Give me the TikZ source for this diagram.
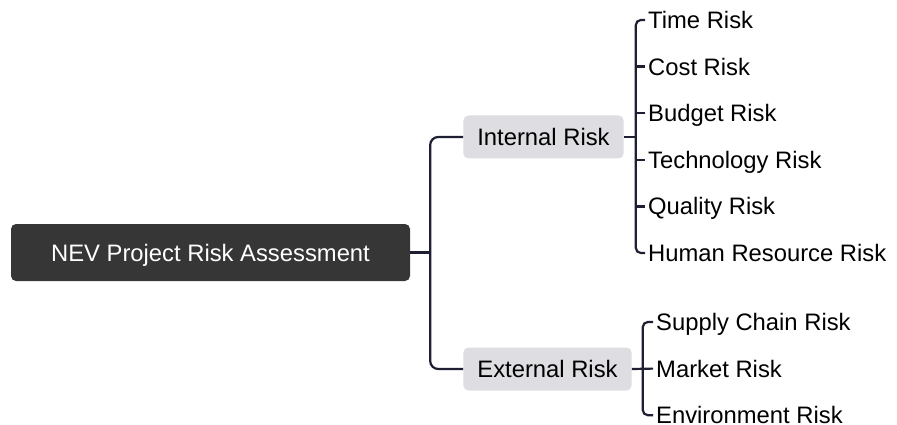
\documentclass[tikz,border=0pt]{standalone}
\usepackage{fontspec}
\setmainfont{Liberation Sans}
\usetikzlibrary{positioning,calc}
\definecolor{RootGray}{HTML}{363636}
\definecolor{BranchGray}{HTML}{DDDDE2}
\definecolor{LinkNavy}{HTML}{1F1F33}

\begin{document}
\begin{tikzpicture}[x=1pt,y=-1pt,
  every node/.style={font=\fontsize{23.8}{28}\selectfont},
  rootbox/.style={fill=RootGray,text=white,rounded corners=5pt,minimum width=399pt,minimum height=57pt,text height=20pt,text depth=3pt},
  riskbox/.style={fill=BranchGray,rounded corners=5pt,inner xsep=14pt,minimum height=43pt,text height=20pt,text depth=3pt},
  leaf/.style={anchor=west,inner sep=3pt,text height=22pt,text depth=5pt},
  link/.style={draw=LinkNavy,line width=2.2pt}]
  \useasboundingbox (0,0) rectangle (897,425);
  \node[rootbox] (root) at (210.5,252.5) {NEV Project Risk Assessment};
  \node[riskbox] (int) at (543.5,137) {Internal Risk};
  \node[riskbox] (ext) at (547.5,369) {External Risk};
  % internal risks
  \node[leaf] (t1) at (645,20) {Time Risk};
  \node[leaf,below=46.6pt of t1.west,anchor=west] (t2) {Cost Risk};
  \node[leaf,below=46.6pt of t2.west,anchor=west] (t3) {Budget Risk};
  \node[leaf,below=46.6pt of t3.west,anchor=west] (t4) {Technology Risk};
  \node[leaf,below=46.6pt of t4.west,anchor=west] (t5) {Quality Risk};
  \node[leaf,below=46.6pt of t5.west,anchor=west] (t6) {Human Resource Risk};
  % external risks
  \node[leaf] (s1) at (653,322) {Supply Chain Risk};
  \node[leaf,below=46.6pt of s1.west,anchor=west] (s2) {Market Risk};
  \node[leaf,below=46.6pt of s2.west,anchor=west] (s3) {Environment Risk};
  % connectors
  \coordinate (rj) at ([xshift=20pt]root.east);
  \coordinate (ij) at ([xshift=12pt]int.east);
  \coordinate (ej) at ([xshift=11pt]ext.east);
  \draw[link] (root.east) -- (rj);
  \draw[link,rounded corners=8pt] (int.west) -| (rj) |- (ext.west);
  \draw[link] (int.east) -- (ij);
  \draw[link,rounded corners=5pt] (t1.west) -| (ij) |- (t6.west);
  \draw[link] (t2.west) -- (t2.west -| ij);
  \draw[link] (t3.west) -- (t3.west -| ij);
  \draw[link] (t4.west) -- (t4.west -| ij);
  \draw[link] (t5.west) -- (t5.west -| ij);
  \draw[link] (ext.east) -- (s2.west);
  \draw[link,rounded corners=5pt] (s1.west) -| (ej) |- (s3.west);
\end{tikzpicture}
\end{document}
